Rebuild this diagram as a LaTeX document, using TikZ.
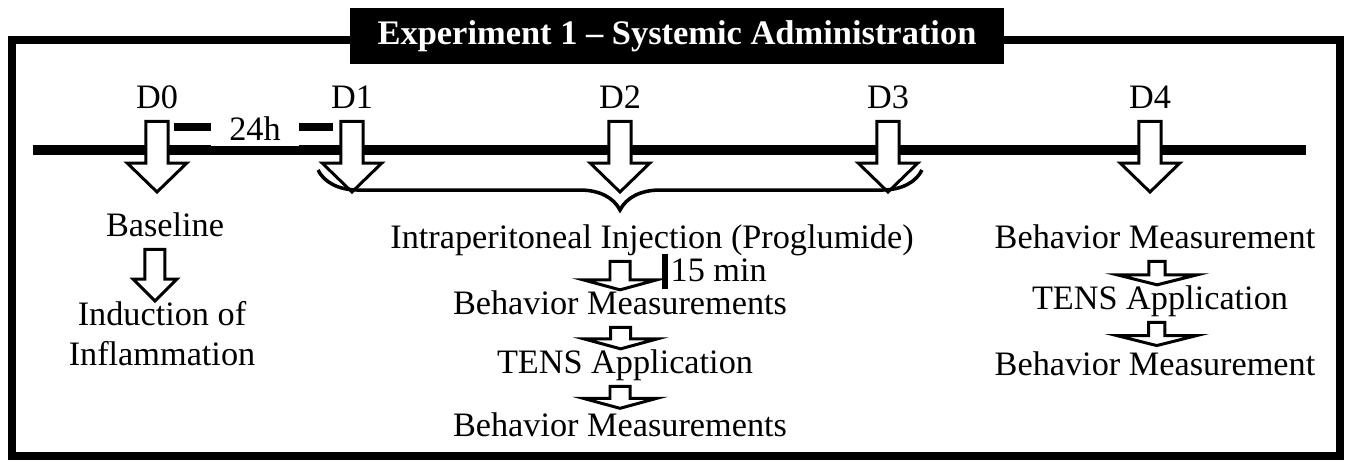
\documentclass[tikz,border=0pt]{standalone}
\usepackage{fontspec}
\setmainfont{Liberation Serif}
\usepackage{tikz}
\usetikzlibrary{calc, decorations.pathreplacing, positioning}

\newcommand{\txtfont}{\fontsize{19.5}{22.8}\selectfont}
% down block arrow: #1 top, #2 tip, #3 stem half width, #4 head half width, #5 head length
\newcommand{\blockarrow}[5]{%
  \draw[arrowbox] let \p1 = #1, \p2 = #2 in
    (\x2-#3,\y1-3pt) -- (\x2+#3,\y1-3pt) -- (\x2+#3,\y2+#5) -- (\x2+#4,\y2+#5) -- (\x2,\y2)
    -- (\x2-#4,\y2+#5) -- (\x2-#3,\y2+#5) -- cycle;}

\begin{document}
\begin{tikzpicture}[
        x=0.02cm, y=-0.02cm,
        frame/.style={draw, line width=5pt},
        titlebox/.style={fill=black, text=white, font=\fontsize{19.6}{22}\selectfont\bfseries, minimum width=372.7pt, minimum height=32.4pt, inner sep=0},
        timeline/.style={line width=5.7pt},
        arrowbox/.style={draw, fill=white, line width=1.7pt, line join=miter},
        txt/.style={font=\txtfont, inner sep=0, text height=13.7pt, text depth=4.3pt},
        txtml/.style={font=\txtfont, inner sep=0, align=center},
        daylabel/.style={txt},
        gapline/.style={line width=4pt},
        gaplabel/.style={font=\txtfont, fill=white, inner xsep=10.5pt, inner ysep=2.8pt},
        spanbrace/.style={decorate, decoration={brace, mirror, amplitude=22.8pt}, line width=2pt},
        minbar/.style={line width=3pt}
    ]
    \useasboundingbox (0,0) rectangle (1352,462);

    % Frame and title
    \draw[frame] (12,40) rectangle (1340,456);
    \node[titlebox] (title) at (677,36) {Experiment 1 -- Systemic Administration};

    % Time line
    \coordinate (tstart) at (33,150);
    \coordinate (tend) at (1306,150);
    \draw[timeline] (tstart) -- (tend);

    % 24 h between D0 and D1
    \coordinate (h0) at (174,127);
    \coordinate (h1) at (333,127);
    \draw[gapline] (h0) -- (h1);
    \node[gaplabel] (gap) at (255,129) {24h};

    % Days
    \foreach \d/\x in {0/157, 1/352, 2/620, 3/888, 4/1150} {
        \node[daylabel] (d\d) at (\x,100) {D\d};
        \coordinate (tip\d) at (\x,192);
        \blockarrow{(d\d.south)}{(tip\d)}{6.3pt}{17pt}{16.5pt}
    }

    % Brace over D1 to D3
    \coordinate (bl) at (318,170);
    \coordinate (br) at (922,170);
    \draw[spanbrace] (bl) -- (br);

    % D0 column
    \node[txt] (base) at (165,228) {Baseline};
    \node[txtml, anchor=north] (induct) at (162,301) {Induction of\\Inflammation};
    \blockarrow{(base.south)}{([xshift=-4pt]induct.north)}{5.7pt}{12.5pt}{12.5pt}

    % D1 to D3 column
    \node[txt] (inject) at (652,240) {Intraperitoneal Injection (Proglumide)};
    \node[txt] (bm1) at (620,306) {Behavior Measurements};
    \node[txt] (tens1) at (625,365) {TENS Application};
    \node[txt] (bm2) at (620,428) {Behavior Measurements};
    \blockarrow{(inject.south)}{(bm1.north)}{5.7pt}{21pt}{5.7pt}
    \blockarrow{(bm1.south)}{([xshift=-2.5pt]tens1.north)}{5.7pt}{21pt}{5.7pt}
    \blockarrow{(tens1.south)}{([yshift=2pt]bm2.north)}{5.7pt}{21pt}{5.7pt}

    \coordinate (bartop) at (665,254);
    \coordinate (barbot) at (665,289);
    \coordinate (barmid) at (665,273);
    \draw[minbar] (bartop) -- (barbot);
    \node[txt, right=3pt of barmid] (fifteen) {15 min};

    % D4 column
    \node[txt] (bmr1) at (1155,240) {Behavior Measurement};
    \node[txt] (tens2) at (1160,301) {TENS Application};
    \node[txt] (bmr2) at (1155,367) {Behavior Measurement};
    \blockarrow{(bmr1.south)}{([xshift=-1.7pt]tens2.north)}{4.6pt}{22.8pt}{5.7pt}
    \blockarrow{(tens2.south)}{([xshift=1pt, yshift=3pt]bmr2.north)}{4.6pt}{22.8pt}{5.7pt}

\end{tikzpicture}
\end{document}
